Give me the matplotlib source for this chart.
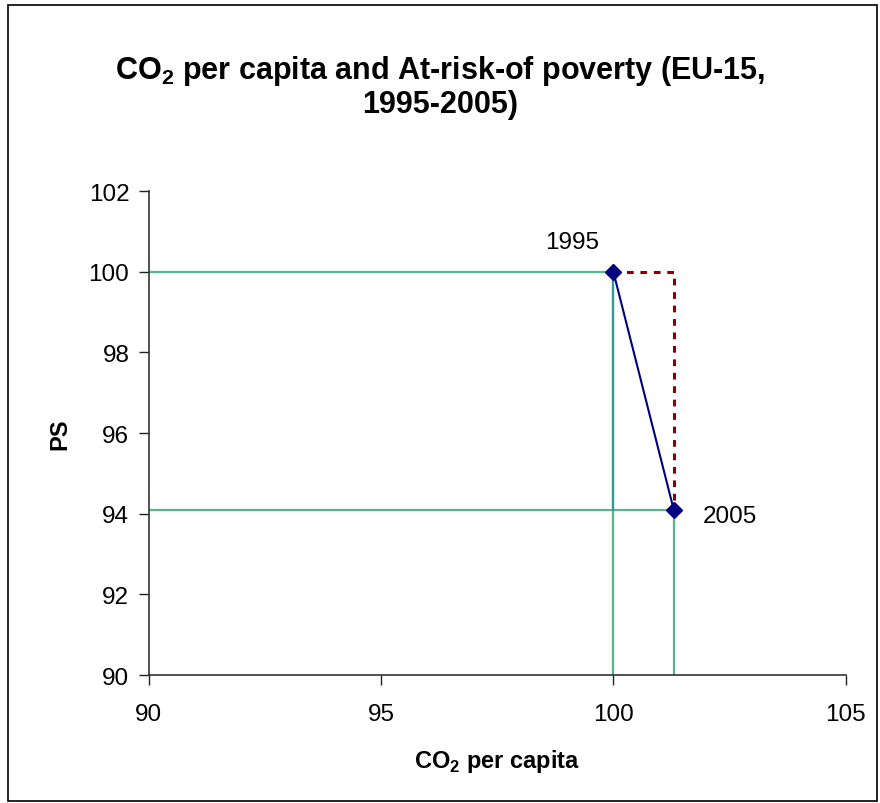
import matplotlib
matplotlib.use("Agg")
import matplotlib.pyplot as plt
from matplotlib.patches import Rectangle

plt.rcParams['font.family'] = ['Liberation Sans', 'DejaVu Sans']
plt.rcParams['mathtext.fontset'] = 'custom'
plt.rcParams['mathtext.rm'] = 'Liberation Sans'
plt.rcParams['mathtext.bf'] = 'Liberation Sans:bold'

years = ['1995', '2005']
co2 = [100.0, 101.3]
ps = [100.0, 94.1]
x_ticks = [90, 95, 100, 105]
y_ticks = [90, 92, 94, 96, 98, 100, 102]

fig = plt.figure(figsize=(8.8, 8.04), dpi=100)
ax = fig.add_axes([0.169, 0.159, 0.792, 0.602])
ax.set_xlim(90, 105)
ax.set_ylim(90, 102)

green = '#55b88a'
teal = '#339999'
# horizontal reference lines
ax.plot([90, co2[0]], [ps[0], ps[0]], color=green, lw=1.6, zorder=2)
ax.plot([90, co2[1]], [ps[1], ps[1]], color=green, lw=1.6, zorder=2)
# vertical reference lines
ax.plot([co2[0], co2[0]], [90, ps[0]], color=green, lw=1.6, zorder=2)
ax.plot([co2[1], co2[1]], [90, ps[1]], color=green, lw=1.6, zorder=2)
ax.plot([co2[0], co2[0]], [ps[1], ps[0]], color=teal, lw=1.6, zorder=2.5)
# dotted dark red path
ax.plot([co2[0], co2[1], co2[1]], [ps[0], ps[0], ps[1]], color='#8b0000',
        lw=2.2, ls=(0, (2.2, 2.2)), zorder=3)
# data line
ax.plot(co2, ps, color='#000080', lw=1.5, marker='D', ms=8.5, zorder=4)

ax.text(99.12, 100.75, years[0], fontsize=17.5, ha='center', va='center')
ax.text(102.51, 93.94, years[1], fontsize=17.5, ha='center', va='center')

ax.set_xticks(x_ticks)
ax.set_yticks(y_ticks)
ax.tick_params(labelsize=17.5, direction='out', length=7, width=1, color='#222222')
ax.tick_params(axis='x', pad=13)
ax.tick_params(axis='y', pad=7)
for s in ['top', 'right']:
    ax.spines[s].set_visible(False)
for s in ['left', 'bottom']:
    ax.spines[s].set_color('#333333')
    ax.spines[s].set_linewidth(1.2)

ax.set_xlabel(r'CO$_\mathbf{2}$ per capita', fontsize=17, fontweight='bold', labelpad=16)
ax.set_ylabel('PS', fontsize=17, fontweight='bold', labelpad=12)

fig.text(0.5, 0.912, r'CO$_\mathbf{2}$ per capita and At-risk-of poverty (EU-15,',
         fontsize=22, fontweight='bold', ha='center', va='center')
fig.text(0.5, 0.869, '1995-2005)', fontsize=22, fontweight='bold', ha='center', va='center')

fig.patches.append(Rectangle((0.009, 0.003), 0.988, 0.989, transform=fig.transFigure,
                             fill=False, edgecolor='black', lw=1.2))

fig.savefig('out.png', dpi=100)
